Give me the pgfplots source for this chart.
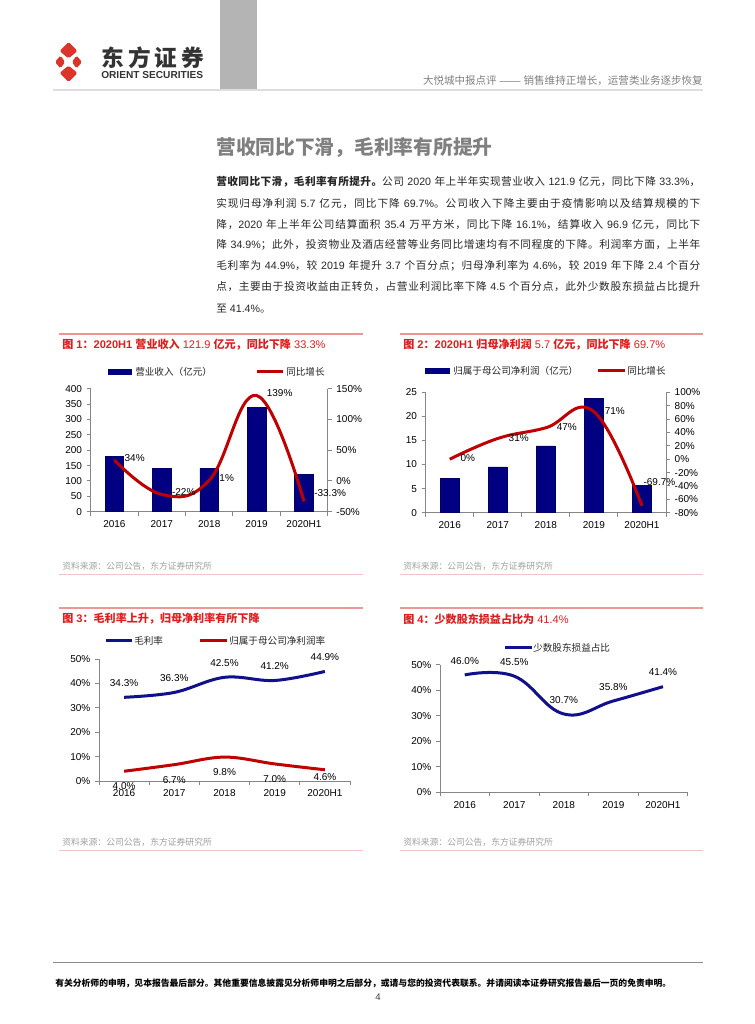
\documentclass[border=0pt]{standalone}
\usepackage{pgfplots}
\usepackage{pgfplotstable}
\pgfplotsset{compat=1.18}
\usepackage{fontspec}
\setmainfont{Liberation Sans}
\newfontfamily\lat{Liberation Sans}
\newfontfamily\cjk{Noto Sans CJK SC}

% switch to the CJK font for Chinese characters automatically
\XeTeXinterchartokenstate=1
\chardef\CJKcls=7
\newcount\ccnt
\newcommand\cjkrange[2]{\ccnt=#1\relax\loop\XeTeXcharclass\ccnt=\CJKcls\relax\advance\ccnt by 1\relax\ifnum\ccnt<#2\repeat}
\cjkrange{"3000}{"3040}
\cjkrange{"4E00}{"A000}
\cjkrange{"FF00}{"FFF0}
\XeTeXinterchartoks 0 \CJKcls = {\cjk}
\XeTeXinterchartoks 4095 \CJKcls = {\cjk}
\XeTeXinterchartoks \CJKcls 0 = {\lat}
\XeTeXinterchartoks \CJKcls 4095 = {\lat}
\XeTeXinterchartoks \CJKcls \CJKcls = {\hskip 0pt plus 1pt\relax}

\newcommand\fs[1]{\fontsize{#1}{#1}\selectfont}

\definecolor{barblue}{RGB}{0,0,128}
\definecolor{lred}{RGB}{192,0,0}
\definecolor{lblue}{RGB}{16,16,140}
\definecolor{axgray}{RGB}{134,134,134}
\definecolor{titred}{RGB}{222,30,30}
\definecolor{pinkA}{RGB}{236,150,150}
\definecolor{pinkB}{RGB}{244,196,196}
\definecolor{srcgray}{RGB}{160,160,160}
\definecolor{logored}{RGB}{218,52,43}
\definecolor{hdrgray}{RGB}{180,180,180}

\pgfplotsset{
  base/.style={
    scale only axis, anchor=south west, clip=false,
    xmin=-0.5, xmax=4.5,
    axis line style={axgray, line width=0.75pt},
    every tick/.style={axgray, line width=0.75pt},
    major tick length=3pt, minor tick length=3pt,
    tick align=outside,
    tick label style={font=\fs{7.5}, text=black},
    /pgf/number format/assume math mode=true,
    xtick={0,...,4}, xticklabels={2016,2017,2018,2019,2020H1},
    minor xtick={-0.5,0.5,...,4.5},
    major x tick style={draw=none},
  },
  lab/.style={draw=none, nodes near coords, point meta=explicit symbolic,
    every node near coord/.append style={font=\fs{7.5}, text=black, inner sep=0pt, #1}},
}

% Fig 1: revenue (100 million yuan) and growth
\pgfplotstableread{
x  rev    g      lab
0  180    34     34\%
1  140    -22    -22\%
2  141    1      1\%
3  339    139    139\%
4  121.9  -33.3  -33.3\%
}\tabA
% Fig 2: net profit attributable to parent and growth
\pgfplotstableread{
x  np    g      lab
0  7.1   0      0\%
1  9.5   31     31\%
2  13.9  47     47\%
3  23.8  71     71\%
4  5.7   -69.7  -69.7\%
}\tabB
% Fig 3: gross margin and net margin
\pgfplotstableread{
x  gm    nm   lg      ln
0  34.3  4.0  34.3\%  4.0\%
1  36.3  6.7  36.3\%  6.7\%
2  42.5  9.8  42.5\%  9.8\%
3  41.2  7.0  41.2\%  7.0\%
4  44.9  4.6  44.9\%  4.6\%
}\tabC
% Fig 4: minority interests share
\pgfplotstableread{
x  mi    lab
0  46.0  46.0\%
1  45.5  45.5\%
2  30.7  30.7\%
3  35.8  35.8\%
4  41.4  41.4\%
}\tabD

\begin{document}
\begin{tikzpicture}
\begin{scope}[x=0.75pt,y=-0.75pt]
\fill[white] (0,0) rectangle (755,1024);
\path[use as bounding box] (0,0) rectangle (755,1024);

% header
\fill[hdrgray] (220,0) rectangle (257,89);
\draw[black!13, line width=1.5pt] (53,90) -- (703,90);
\fill[logored, rounded corners=1.2pt] (68.5,42) -- (77.5,51) -- (68.5,58.5) -- (59.5,51) -- cycle;
\fill[logored, rounded corners=1.2pt] (68.5,82) -- (77.5,73) -- (68.5,65.5) -- (59.5,73) -- cycle;
\fill[logored, rounded corners=1.2pt] (55,62) -- (60.5,55.5) -- (65,62) -- (60.5,68.5) -- cycle;
\fill[logored, rounded corners=1.2pt] (82,62) -- (76.5,55.5) -- (72,62) -- (76.5,68.5) -- cycle;
\node[anchor=west, inner sep=0, text=black!80] at (101,57.5) {\hbox to 77.25pt{\fs{17}\bfseries 东方证券}};
\node[anchor=west, inner sep=0, text=black!80] at (101,75.5) {\fs{7.6}\bfseries ORIENT SECURITIES};
\node[anchor=east, inner sep=0, text=black!50] at (703,81) {\fs{7.9}大悦城中报点评 —— 销售维持正增长，运营类业务逐步恢复};

% section heading and text
\node[anchor=west, inner sep=0, text=black!50] at (216,148) {\fs{14.8}\bfseries 营收同比下滑，毛利率有所提升};
\begin{scope}[every node/.style={anchor=west, inner sep=0, text=black!85}]
\node at (216,181.7) {\hbox to 363pt{\fs{8}{\bfseries 营收同比下滑，毛利率有所提升。}公司 2020 年上半年实现营业收入 121.9 亿元，同比下降 33.3\%，}};
\node at (216,203.3) {\hbox to 363pt{\fs{8}实现归母净利润 5.7 亿元，同比下降 69.7\%。公司收入下降主要由于疫情影响以及结算规模的下}};
\node at (216,224.3) {\hbox to 363pt{\fs{8}降，2020 年上半年公司结算面积 35.4 万平方米，同比下降 16.1\%，结算收入 96.9 亿元，同比下}};
\node at (216,245) {\hbox to 363pt{\fs{8}降 34.9\%；此外，投资物业及酒店经营等业务同比增速均有不同程度的下降。利润率方面，上半年}};
\node at (216,266) {\hbox to 363pt{\fs{8}毛利率为 44.9\%，较 2019 年提升 3.7 个百分点；归母净利率为 4.6\%，较 2019 年下降 2.4 个百分}};
\node at (216,286.7) {\hbox to 363pt{\fs{8}点，主要由于投资收益由正转负，占营业利润比率下降 4.5 个百分点，此外少数股东损益占比提升}};
\node at (216,308.3) {\fs{8}至 41.4\%。};
\end{scope}

% figure frames
\draw[pinkA, line width=1.1pt] (59,334) -- (363,334);
\draw[pinkA, line width=1.1pt] (400,334) -- (703,334);
\draw[pinkA, line width=1.1pt] (59,608) -- (363,608);
\draw[pinkA, line width=1.1pt] (400,608) -- (703,608);
\draw[pinkB, line width=1.1pt] (59,574.5) -- (363,574.5);
\draw[pinkB, line width=1.1pt] (400,574.5) -- (703,574.5);
\draw[pinkB, line width=1.1pt] (59,850.5) -- (363,850.5);
\draw[pinkB, line width=1.1pt] (400,850.5) -- (703,850.5);
\begin{scope}[every node/.style={anchor=west, inner sep=0, text=titred}]
\node at (62,345) {\fs{8.3}\bfseries 图 1：2020H1 营业收入 {\mdseries 121.9} 亿元，同比下降 {\mdseries 33.3\%}};
\node at (403,345) {\fs{8.3}\bfseries 图 2：2020H1 归母净利润 {\mdseries 5.7} 亿元，同比下降 {\mdseries 69.7\%}};
\node at (62,619) {\fs{8.3}\bfseries 图 3：毛利率上升，归母净利率有所下降};
\node at (403,619) {\fs{8.3}\bfseries 图 4：少数股东损益占比为 {\mdseries 41.4\%}};
\end{scope}
\begin{scope}[every node/.style={anchor=west, inner sep=0, text=srcgray}]
\node at (62,566) {\fs{6.6}资料来源：公司公告，东方证券研究所};
\node at (403,566) {\fs{6.6}资料来源：公司公告，东方证券研究所};
\node at (62,842) {\fs{6.6}资料来源：公司公告，东方证券研究所};
\node at (403,842) {\fs{6.6}资料来源：公司公告，东方证券研究所};
\end{scope}

% legends
\begin{scope}[every node/.style={anchor=west, inner sep=0, text=black!85}]
\fill[barblue] (108,369) rectangle (132,374.5);
\node at (135,371.7) {\fs{7.2}营业收入（亿元）};
\draw[lred, line width=2.25pt] (257,371.7) -- (283,371.7);
\node at (286,371.7) {\fs{7.2}同比增长};
\fill[barblue] (425,368) rectangle (450,373.5);
\node at (453,370.7) {\fs{7.2}归属于母公司净利润（亿元）};
\draw[lred, line width=2.25pt] (598,370.7) -- (625,370.7);
\node at (627,370.7) {\fs{7.2}同比增长};
\draw[lblue, line width=2.25pt] (106,640.7) -- (131.7,640.7);
\node at (134,640.7) {\fs{7.2}毛利率};
\draw[lred, line width=2.25pt] (200,640.7) -- (227,640.7);
\node at (229,640.7) {\fs{7.2}归属于母公司净利润率};
\draw[lblue, line width=2.25pt] (505,647.7) -- (531.7,647.7);
\node at (533,647.7) {\fs{7.2}少数股东损益占比};
\end{scope}

% footer
\draw[black!45, line width=0.75pt] (53,962) -- (703,962);
\node[anchor=west, inner sep=0] at (55,983) {\fs{6.6}\bfseries 有关分析师的申明，见本报告最后部分。其他重要信息披露见分析师申明之后部分，或请与您的投资代表联系。并请阅读本证券研究报告最后一页的免责申明。};
\node[inner sep=0, text=black!75] at (378,997) {\fs{7.2}4};
\end{scope}

% ---- Fig 1 ----
\begin{axis}[base, at={(68.03pt,-383.78pt)}, width=177.75pt, height=92.25pt,
  ymin=0, ymax=400, ytick={0,50,...,400},
  axis x line*=bottom, axis y line*=left]
\addplot[ybar, bar width=14pt, fill=barblue, draw=barblue!80!black] table[x=x, y=rev] {\tabA};
\end{axis}
\begin{axis}[base, at={(68.03pt,-383.78pt)}, width=177.75pt, height=92.25pt,
  ymin=-50, ymax=150, ytick={-50,0,50,100,150},
  yticklabels={-50\%,0\%,50\%,100\%,150\%},
  axis y line*=right, axis x line=none]
\addplot[lab={anchor=west, xshift=7.5pt, yshift=1.5pt}, restrict x to domain=0:3] table[x=x, y=g, meta=lab] {\tabA};
\addplot[lab={anchor=west, xshift=7.5pt, yshift=6pt}, restrict x to domain=4:4] table[x=x, y=g, meta=lab] {\tabA};
\addplot[smooth, tension=0.7, lred, line width=2.25pt] table[x=x, y=g] {\tabA};
\end{axis}

% ---- Fig 2 ----
\begin{axis}[base, at={(319.28pt,-384.53pt)}, width=180.23pt, height=90.3pt,
  ymin=0, ymax=25, ytick={0,5,...,25},
  axis x line*=bottom, axis y line*=left]
\addplot[ybar, bar width=14.5pt, fill=barblue, draw=barblue!80!black] table[x=x, y=np] {\tabB};
\end{axis}
\begin{axis}[base, at={(319.28pt,-384.53pt)}, width=180.23pt, height=90.3pt,
  ymin=-80, ymax=100, ytick={-80,-60,...,100},
  yticklabels={-80\%,-60\%,-40\%,-20\%,0\%,20\%,40\%,60\%,80\%,100\%},
  axis y line*=right, axis x line=none]
\addplot[lab={anchor=west, xshift=8pt, yshift=0.5pt}, restrict x to domain=0:3] table[x=x, y=g, meta=lab] {\tabB};
\addplot[lab={anchor=west, xshift=1pt, yshift=18pt}, restrict x to domain=4:4] table[x=x, y=g, meta=lab] {\tabB};
\addplot[smooth, tension=0.7, lred, line width=2.25pt] table[x=x, y=g] {\tabB};
\end{axis}

% ---- Fig 3 ----
\begin{axis}[base, at={(74.25pt,-585.75pt)}, width=188.25pt, height=91.5pt,
  ymin=0, ymax=50, ytick={0,10,...,50},
  yticklabels={0\%,10\%,20\%,30\%,40\%,50\%},
  axis x line*=bottom, axis y line*=left]
\addplot[smooth, tension=0.6, lblue, line width=2.25pt] table[x=x, y=gm] {\tabC};
\addplot[smooth, tension=0.6, lred, line width=2.25pt] table[x=x, y=nm] {\tabC};
\addplot[lab={anchor=south, yshift=7.8pt}] table[x=x, y=gm, meta=lg] {\tabC};
\addplot[lab={anchor=north, yshift=-8.5pt}, restrict x to domain=0:3] table[x=x, y=nm, meta=ln] {\tabC};
\addplot[lab={anchor=north, yshift=-2.5pt}, restrict x to domain=4:4] table[x=x, y=nm, meta=ln] {\tabC};
\end{axis}

% ---- Fig 4 ----
\begin{axis}[base, at={(330pt,-594.23pt)}, width=185.78pt, height=95.7pt,
  ymin=0, ymax=50, ytick={0,10,...,50},
  yticklabels={0\%,10\%,20\%,30\%,40\%,50\%},
  axis x line*=bottom, axis y line*=left]
\addplot[smooth, tension=0.7, lblue, line width=2.25pt] table[x=x, y=mi] {\tabD};
\addplot[lab={anchor=south, yshift=7.8pt}] table[x=x, y=mi, meta=lab] {\tabD};
\end{axis}
\end{tikzpicture}
\end{document}
